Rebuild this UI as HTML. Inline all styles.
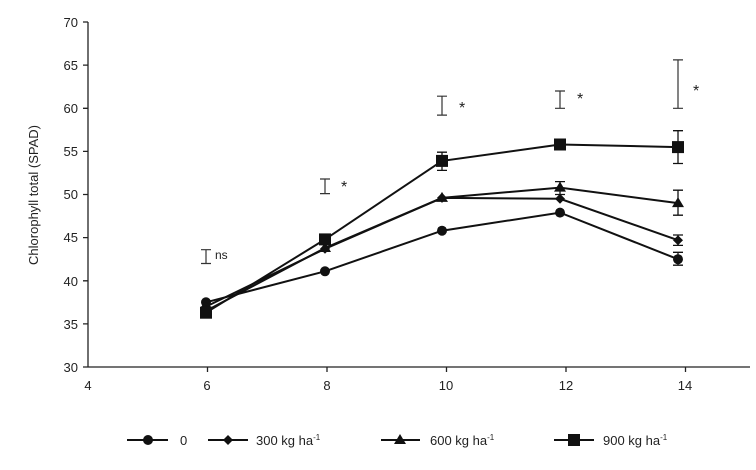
<!DOCTYPE html>
<html><head><style>body{margin:0;background:#fff}svg{display:block}text{font-family:"Liberation Sans",sans-serif;fill:#222}</style></head><body>
<svg width="756" height="470" viewBox="0 0 756 470" xmlns="http://www.w3.org/2000/svg">
<g stroke="#222" stroke-width="1.3" fill="none">
<line x1="88" y1="22" x2="88" y2="367"/>
<line x1="88" y1="367" x2="750" y2="367"/>
<path d="M83 22H88M83 65.1H88M83 108.3H88M83 151.4H88M83 194.5H88M83 237.6H88M83 280.8H88M83 323.9H88M83 367H88"/>
<path d="M207.5 367V372M327 367V372M446.5 367V372M566 367V372M685.5 367V372"/>
</g>
<g font-size="13" text-anchor="end">
<text x="78" y="27">70</text><text x="78" y="70">65</text><text x="78" y="113">60</text><text x="78" y="156">55</text><text x="78" y="199">50</text><text x="78" y="242">45</text><text x="78" y="286">40</text><text x="78" y="329">35</text><text x="78" y="372">30</text>
</g>
<g font-size="13" text-anchor="middle">
<text x="88" y="390">4</text><text x="207" y="390">6</text><text x="327" y="390">8</text><text x="446" y="390">10</text><text x="566" y="390">12</text><text x="685" y="390">14</text>
</g>
<text transform="translate(38,195) rotate(-90)" font-size="13" text-anchor="middle">Chlorophyll total (SPAD)</text>
<g stroke="#333" stroke-width="1.2" fill="none">
<path d="M206 249.7V263.5M201 249.7H211M201 263.5H211"/>
<path d="M325 179V193.6M320 179H330M320 193.6H330"/>
<path d="M442 96.2V115.1M437 96.2H447M437 115.1H447"/>
<path d="M560 91V108.3M555 91H565M555 108.3H565"/>
<path d="M678 59.9V108.3M673 59.9H683M673 108.3H683"/>
</g>
<g font-size="12" fill="#444"><text x="215" y="259">ns</text></g>
<g font-size="16" fill="#666"><text x="341" y="192">*</text><text x="459" y="113">*</text><text x="577" y="104">*</text><text x="693" y="96">*</text></g>
<g stroke="#111" stroke-width="2" fill="none">
<polyline points="206,302.3 325,271.3 442,230.7 560,212.6 678,259.2"/>
<polyline points="206,306.6 325,248.8 442,197.9 560,198.8 678,240.2"/>
<polyline points="206,310.9 325,248 442,197.9 560,187.6 678,203.1"/>
<polyline points="206,312.7 325,239.4 442,160.9 560,144.5 678,147.1"/>
</g>
<g stroke="#111" stroke-width="1.3" fill="none">
<path d="M442 152.2V170.4M437 152.2H447M437 170.4H447"/>
<path d="M678 130.7V163.5M673 130.7H683M673 163.5H683"/>
<path d="M678 190.2V215.2M673 190.2H683M673 215.2H683"/>
<path d="M678 235V245.4M673 235H683M673 245.4H683"/>
<path d="M678 252.3V265.2M673 252.3H683M673 265.2H683"/>
<path d="M560 181.6V194.5M555 181.6H565M555 194.5H565"/>
</g>
<g fill="#111">
<circle cx="206" cy="302.3" r="5"/><circle cx="325" cy="271.3" r="5"/><circle cx="442" cy="230.7" r="5"/><circle cx="560" cy="212.6" r="5"/><circle cx="678" cy="259.2" r="5"/>
<path d="M206 301.6l5 5-5 5-5-5zM325 243.8l5 5-5 5-5-5zM442 192.9l5 5-5 5-5-5zM560 193.8l5 5-5 5-5-5zM678 235.2l5 5-5 5-5-5z"/>
<path d="M206 304.9l6 10h-12zM325 242l6 10h-12zM442 191.9l6 10h-12zM560 181.6l6 10h-12zM678 197.1l6 10h-12z"/>
<rect x="200" y="306.7" width="12" height="12"/><rect x="319" y="233.4" width="12" height="12"/><rect x="436" y="154.9" width="12" height="12"/><rect x="554" y="138.5" width="12" height="12"/><rect x="672" y="141.1" width="12" height="12"/>
</g>
<g stroke="#111" stroke-width="2"><line x1="127" y1="440" x2="168" y2="440"/><line x1="208" y1="440" x2="248" y2="440"/><line x1="381" y1="440" x2="420" y2="440"/><line x1="554" y1="440" x2="594" y2="440"/></g>
<g fill="#111"><circle cx="148" cy="440" r="5"/><path d="M228 435l5 5-5 5-5-5z"/><path d="M400 434l6 10h-12z"/><rect x="568" y="434" width="12" height="12"/></g>
<g font-size="13"><text x="180" y="445">0</text><text x="256" y="445">300 kg ha<tspan font-size="8" dy="-5">-1</tspan></text><text x="430" y="445">600 kg ha<tspan font-size="8" dy="-5">-1</tspan></text><text x="603" y="445">900 kg ha<tspan font-size="8" dy="-5">-1</tspan></text></g>
</svg>
</body></html>
